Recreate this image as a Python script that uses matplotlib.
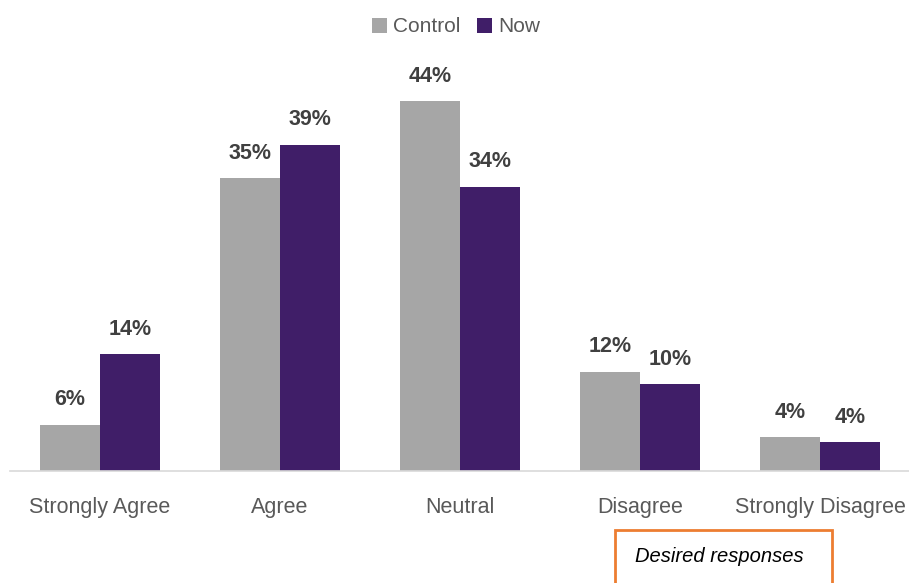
import matplotlib
matplotlib.use("Agg")
import matplotlib.pyplot as plt
from matplotlib.patches import Rectangle
import numpy as np

categories = ["Strongly Agree", "Agree", "Neutral", "Disagree", "Strongly Disagree"]
control = [5.5, 34.8, 44.0, 11.8, 4.0]
now = [13.9, 38.8, 33.8, 10.3, 3.4]
control_labels = ["6%", "35%", "44%", "12%", "4%"]
now_labels = ["14%", "39%", "34%", "10%", "4%"]

plt.rcParams['font.family'] = ['Liberation Sans Narrow', 'Liberation Sans', 'DejaVu Sans']

fig = plt.figure(figsize=(9.09, 5.83), dpi=100)
ax = fig.add_axes([10/909, 112/583, 900/909, (471-60)/583])

x = np.arange(len(categories))
w = 1/3
gray = "#A6A6A6"
purple = "#401E68"
b1 = ax.bar(x - w/2, control, w, color=gray, label="Control")
b2 = ax.bar(x + w/2, now, w, color=purple, label="Now")

for rect, lab in zip(b1, control_labels):
    ax.text(rect.get_x() + rect.get_width()/2, rect.get_height() + 1.7, lab,
            ha="center", va="bottom", fontsize=15.5, color="#404040", fontweight="bold")
for rect, lab in zip(b2, now_labels):
    ax.text(rect.get_x() + rect.get_width()/2, rect.get_height() + 1.7, lab,
            ha="center", va="bottom", fontsize=15.5, color="#404040", fontweight="bold")

ax.set_xlim(-0.5, 4.5)
ax.set_ylim(0, (471-60)/8.41)
ax.set_xticks(x)
ax.set_xticklabels(categories, fontsize=15.5, color="#595959")
ax.tick_params(axis="x", length=0, pad=19)
ax.set_yticks([])
for s in ["top", "right", "left"]:
    ax.spines[s].set_visible(False)
ax.spines["bottom"].set_color("#D9D9D9")
ax.spines["bottom"].set_linewidth(1.2)

leg = fig.legend(handles=[b1, b2], labels=["Control", "Now"], loc="center",
                 bbox_to_anchor=(456/909, 1 - 27/583), ncol=2, frameon=False,
                 fontsize=15, handlelength=0.7, handleheight=0.7, handletextpad=0.3,
                 columnspacing=0.8, labelcolor="#595959")

# Orange box annotation
box = Rectangle((615/909, -0.05), (832-615)/909, (583-530)/583 + 0.05,
                transform=fig.transFigure, fill=False, edgecolor="#ED7D31",
                linewidth=2, clip_on=False)
fig.add_artist(box)
fig.text(719/909, 1 - 556/583, "Desired responses", ha="center", va="center",
         fontsize=14.5, style="italic", color="#000000")

fig.savefig("out.png", dpi=100)
